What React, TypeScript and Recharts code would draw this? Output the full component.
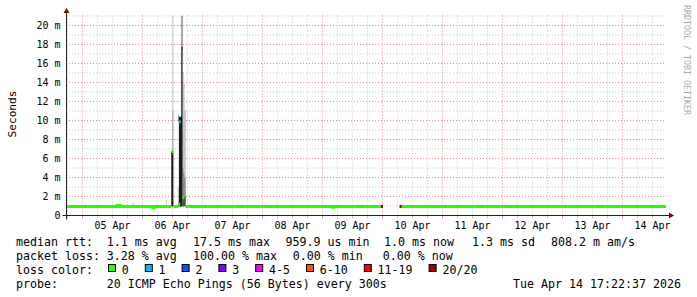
import React from "react";
import {
  ComposedChart,
  XAxis,
  YAxis,
  CartesianGrid,
  Area,
  Line,
  Scatter,
  ReferenceLine,
  ReferenceDot,
} from "recharts";

// time axis in hours after 05 Apr 00:00, value axis in ms
const T_START = -6.6;
const T_END = 233.4;
const Y_MAX = 21.05;

const dayTicks = [12, 36, 60, 84, 108, 132, 156, 180, 204, 228];
const dayLabels = ["05 Apr", "06 Apr", "07 Apr", "08 Apr", "09 Apr", "10 Apr", "11 Apr", "12 Apr", "13 Apr", "14 Apr"];
const msTicks = [0, 2, 4, 6, 8, 10, 12, 14, 16, 18, 20];
const msMinor = [1, 3, 5, 7, 9, 11, 13, 15, 17, 19, 21];
const midnights = [0, 24, 48, 72, 96, 120, 144, 168, 192, 216];
const sixHours = [
  -6, 6, 12, 18, 30, 36, 42, 54, 60, 66, 78, 84, 90, 102, 108, 114, 126, 132, 138,
  150, 156, 162, 174, 180, 186, 198, 204, 210, 222, 228,
];

// median rtt [hour, ms], null = no data
const median: [number, number | null][] = [
  [-6.6, 0.95], [13.8, 0.95], [13.8, 1.05], [15.0, 1.05], [15.0, 0.95],
  [28.2, 0.95], [28.2, 0.82], [28.6, 0.82], [28.6, 0.95],
  [35.6, 0.95], [35.8, null], [36.4, 0.95],
  [38.5, 0.95], [39.0, null], [41.2, 0.95],
  [100.2, 0.95], [100.2, 0.87], [100.6, 0.87], [100.6, 0.95],
  [119.8, 0.95], [123.0, null], [127.4, 0.95], [233.4, 0.95],
];

// median marks drawn in their loss colour [hour, ms, loss class]
const lossMarks: [number, number, number][] = [
  [36.0, 6.7, 0],
  [38.7, 1.2, 0],
  [38.9, 9.85, 1],
  [39.8, 17.6, 2],
  [40.4, 1.9, 0],
  [119.8, 0.95, 7],
  [127.2, 0.95, 7],
];

// smoke columns [from hour, to hour, low ms, high ms]
const smokeLight: [number, number, number, number][] = [
  [20.0, 20.4, 0.95, 1.35],
  [33.4, 33.8, 0.95, 1.6],
  [35.96, 36.36, 11, 21.05],
  [38.2, 38.56, 1.0, 3.0],
  [40.04, 40.44, 5, 15.1],
  [40.44, 40.84, 4.5, 13.9],
  [40.84, 41.3, 4, 11.1],
];
const smokeMid: [number, number, number, number][] = [
  [35.96, 36.36, 6.7, 11],
  [38.2, 38.56, 9.9, 10.6],
  [40.04, 40.44, 2.0, 5],
  [40.44, 40.84, 2.0, 4.5],
  [40.84, 41.3, 1.6, 4],
];
const smokeDark: [number, number, number, number][] = [
  [39.6, 40.0, 17.6, 21.05],
  [40.04, 41.3, 0.95, 2.0],
];
const smokeBlack: [number, number, number, number][] = [
  [35.5, 36.36, 0.95, 6.7],
  [38.56, 39.5, 0.95, 10.4],
  [39.5, 40.04, 0.95, 17.6],
];

const lossLabels = ["0", "1", "2", "3", "4-5", "6-10", "11-19", "20/20"];
const lossColors = ["#26ff00", "#00b8ff", "#0059ff", "#7e00ff", "#ff00ff", "#ff5500", "#ff0000", "#a10000"];

const rttStats = ["1.1 ms avg", "17.5 ms max", "959.9 us min", "1.0 ms now", "1.3 ms sd", "808.2 m am/s"];
const lossStats = ["3.28 % avg", "100.00 % max", "0.00 % min", "0.00 % now"];
const probeText = "20 ICMP Echo Pings (56 Bytes) every 300s";
const stampText = "Tue Apr 14 17:22:37 2026";

const rttX = [106.7, 193, 285.5, 384, 472, 551];
const lossX = [106.7, 193, 292.7, 382.7];

const MONO = "'DejaVu Sans Mono', monospace";
const CH = 7; // legend char width

const steps = (cols: [number, number, number, number][]) =>
  cols.flatMap(([a, b, lo, hi]) => [
    { t: a, v: [lo, hi] },
    { t: b, v: [lo, hi] },
    { t: b, v: null },
  ]);

const medianData = median.map(([t, ms]) => ({ t, ms }));
const markData = lossMarks.map(([t, ms, loss]) => ({ t, ms, loss }));

function Legend() {
  const rows = [245.5, 259.5, 273.5, 287.5];
  let bx = 108.5;
  const boxes = lossLabels.map((lab, i) => {
    const x = bx;
    bx = x + 13.3 + lab.length * CH + 16.5;
    return (
      <g key={lab}>
        <rect x={x} y={264.5} width={7} height={7} fill={lossColors[i]} stroke="#000" strokeWidth={1} />
        <text x={x + 13.3} y={rows[2]}>{lab}</text>
      </g>
    );
  });
  return (
    <svg width={697} height={297} style={{ position: "absolute", left: 0, top: 0, pointerEvents: "none" }}>
      <g fontFamily={MONO} fontSize={11.63} fill="#000">
        <text x={16} y={rows[0]}>median rtt:</text>
        {rttStats.map((s, i) => (
          <text key={s} x={rttX[i]} y={rows[0]}>{s}</text>
        ))}
        <text x={16} y={rows[1]}>packet loss:</text>
        {lossStats.map((s, i) => (
          <text key={s + i} x={lossX[i]} y={rows[1]}>{s}</text>
        ))}
        <text x={16} y={rows[2]}>loss color:</text>
        {boxes}
        <text x={16} y={rows[3]}>probe:</text>
        <text x={106.7} y={rows[3]}>{probeText}</text>
        <text x={681} y={rows[3]} textAnchor="end">{stampText}</text>
      </g>
      <text transform="translate(15.5,114) rotate(-90)" textAnchor="middle" fontFamily={MONO} fontSize={11.1} fill="#000">
        Seconds
      </text>
      <text transform="translate(684,5) rotate(90)" fontFamily={MONO} fontSize={8.3} fill="#aaaaaa">
        RRDTOOL / TOBI OETIKER
      </text>
    </svg>
  );
}

const arrowRight = (p: any) => (
  <polygon points={`${p.cx},${p.cy - 3} ${p.cx + 5},${p.cy} ${p.cx},${p.cy + 3}`} fill="#8b0000" />
);
const arrowUp = (p: any) => (
  <polygon points={`${p.cx - 3},${p.cy} ${p.cx},${p.cy - 5} ${p.cx + 3},${p.cy}`} fill="#8b0000" />
);

export default function App() {
  return (
    <div style={{ position: "absolute", left: 0, top: 0, width: 697, height: 297, background: "#fff" }}>
      <ComposedChart width={697} height={297} margin={{ top: 15.5, right: 31, bottom: 61.5, left: 10 }}>
        <CartesianGrid
          horizontalValues={msMinor}
          verticalValues={sixHours}
          stroke="#c8c8c8"
          strokeDasharray="1 2"
        />
        <CartesianGrid
          horizontalValues={msTicks.filter((v) => v > 0)}
          verticalValues={midnights}
          stroke="#e88a8a"
          strokeDasharray="1 2"
        />
        <XAxis
          type="number"
          dataKey="t"
          domain={[T_START, T_END]}
          allowDataOverflow
          ticks={dayTicks}
          tickFormatter={(v) => dayLabels[dayTicks.indexOf(v)] ?? ""}
          axisLine={false}
          tickLine={false}
          tickSize={0}
          tickMargin={6.4}
          height={20}
          interval={0}
          tick={{ fill: "#000", fontSize: 10, fontFamily: MONO }}
        />
        <YAxis
          type="number"
          domain={[0, Y_MAX]}
          allowDataOverflow
          ticks={msTicks}
          tickFormatter={(v) => (v === 0 ? "0" : `${v} m`)}
          axisLine={false}
          tickLine={false}
          tickSize={0}
          tickMargin={5.5}
          width={56}
          interval={0}
          tick={{ fill: "#000", fontSize: 10, fontFamily: MONO }}
        />
        <Area data={steps(smokeLight)} dataKey="v" type="linear" stroke="none" fill="#c4c4c4" fillOpacity={1} dot={false} activeDot={false} isAnimationActive={false} />
        <Area data={steps(smokeMid)} dataKey="v" type="linear" stroke="none" fill="#8e8e8e" fillOpacity={1} dot={false} activeDot={false} isAnimationActive={false} />
        <Area data={steps(smokeDark)} dataKey="v" type="linear" stroke="none" fill="#505050" fillOpacity={1} dot={false} activeDot={false} isAnimationActive={false} />
        <Area data={steps(smokeBlack)} dataKey="v" type="linear" stroke="none" fill="#1c1c1c" fillOpacity={1} dot={false} activeDot={false} isAnimationActive={false} />
        <Line data={medianData} dataKey="ms" type="linear" stroke="#26ff00" strokeWidth={3} dot={false} activeDot={false} isAnimationActive={false} />
        <Scatter
          data={markData}
          dataKey="ms"
          isAnimationActive={false}
          shape={(p: any) => (
            <rect x={p.cx - 1} y={p.cy - 1.5} width={2} height={3} fill={lossColors[p.payload.loss]} />
          )}
        />
        {midnights.map((t) => (
          <ReferenceLine key={"m" + t} segment={[{ x: t, y: 0 }, { x: t, y: -0.3 }]} stroke="#e88a8a" ifOverflow="visible" />
        ))}
        {sixHours.filter((t) => t > T_START).map((t) => (
          <ReferenceLine key={"s" + t} segment={[{ x: t, y: 0 }, { x: t, y: -0.3 }]} stroke="#c8c8c8" ifOverflow="visible" />
        ))}
        <ReferenceLine segment={[{ x: -8, y: 0 }, { x: 234.6, y: 0 }]} stroke="#212121" ifOverflow="visible" />
        <ReferenceLine segment={[{ x: -6.4, y: -0.42 }, { x: -6.4, y: 21.3 }]} stroke="#212121" ifOverflow="visible" />
        <ReferenceDot x={234.6} y={0} ifOverflow="visible" shape={arrowRight} />
        <ReferenceDot x={-6.4} y={21.3} ifOverflow="visible" shape={arrowUp} />
      </ComposedChart>
      <Legend />
    </div>
  );
}
